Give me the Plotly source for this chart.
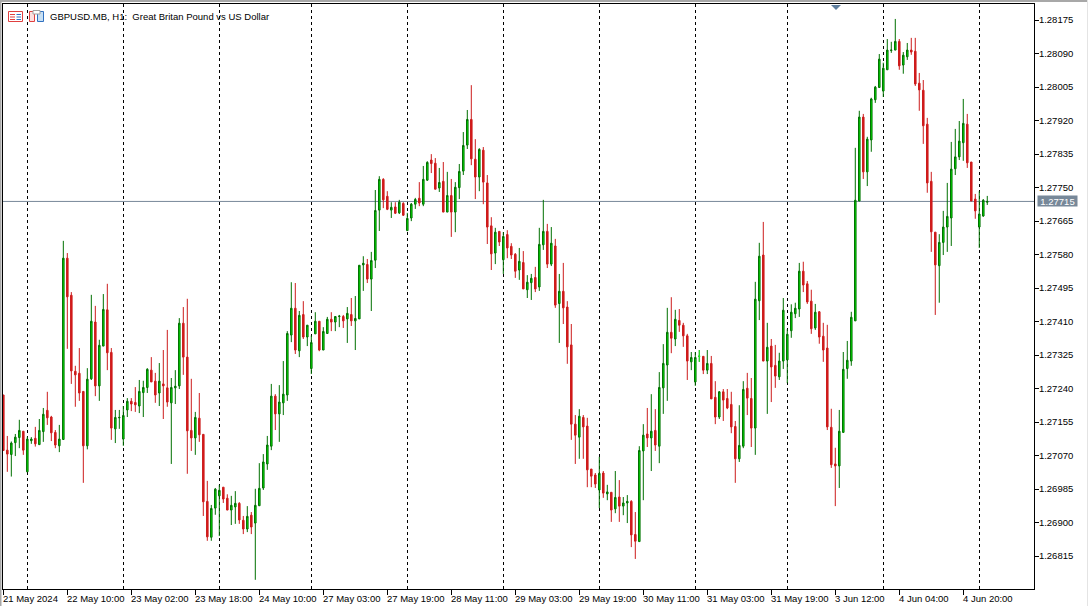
import plotly.graph_objects as go

# Prices in points (1e-5)
opens = [
127224,127084,127073,127103,127116,127132,127029,127108,127114,127098,
127131,127185,127168,127129,127095,127111,127571,127477,127284,127279,
127233,127095,127265,127409,127247,127348,127440,127332,127138,127166,
127112,127186,127208,127205,127196,127230,127243,127287,127259,127229,
127252,127242,127204,127242,127247,127406,127320,127134,127115,127165,
127124,126954,126863,126937,126968,126990,126962,126932,126940,126949,
126906,126884,126919,126899,126943,126988,127049,127094,127221,127176,
127204,127224,127376,127444,127336,127428,127371,127291,127379,127411,
127338,127380,127416,127409,127423,127423,127417,127428,127412,127417,
127554,127555,127518,127566,127693,127771,127728,127693,127701,127686,
127710,127641,127673,127708,127723,127708,127769,127820,127812,127749,
127766,127688,127730,127688,127750,127792,127858,127923,127822,127777,
127845,127762,127653,127584,127639,127567,127631,127601,127581,127541,
127560,127491,127509,127522,127498,127605,127639,127556,127602,127456,
127487,127447,127351,127150,127117,127167,127145,127036,127021,126983,
127026,126973,126977,126935,126965,126942,126950,126954,126870,126852,
127082,127125,127115,127134,127094,127242,127300,127383,127366,127413,
127401,127374,127308,127257,127322,127322,127287,127304,127218,127168,
127232,127215,127200,127144,127062,127094,127241,127215,127140,127463,
127579,127310,127348,127299,127270,127310,127313,127387,127430,127442,
127538,127506,127462,127394,127435,127373,127343,127142,127049,127044,
127129,127291,127310,127412,127716,127929,127790,127871,127973,128004,
127995,128049,128098,128099,128121,128061,128082,128099,128096,128015,
127997,127911,127766,127637,127552,127611,127650,127673,127798,127828,
127864,127911,127815,127721,127650,127678,127713]

highs = [
127224,127120,127106,127125,127161,127132,127118,127117,127143,127163,
127191,127232,127171,127135,127148,127615,127584,127485,127298,127343,
127233,127292,127478,127450,127364,127480,127506,127343,127186,127186,
127196,127216,127216,127244,127262,127260,127292,127320,127280,127305,
127338,127389,127267,127287,127419,127447,127468,127265,127181,127229,
127124,127006,126945,126988,126996,126990,126972,126968,126980,126952,
126917,126942,126927,126986,127051,127074,127120,127252,127226,127249,
127310,127386,127510,127508,127437,127462,127401,127375,127434,127411,
127396,127422,127434,127424,127427,127427,127447,127470,127475,127553,
127576,127569,127587,127744,127779,127774,127741,127713,127713,127719,
127713,127686,127711,127724,127764,127805,127817,127835,127825,127800,
127815,127790,127772,127764,127810,127891,127947,128010,127873,127850,
127853,127782,127675,127648,127639,127637,127642,127609,127584,127597,
127589,127528,127531,127549,127648,127719,127658,127650,127620,127531,
127559,127462,127404,127173,127188,127173,127166,127036,127026,127067,
127031,126996,126977,127031,127008,126965,126970,126957,126927,127094,
127150,127191,127226,127188,127282,127353,127445,127472,127440,127442,
127407,127379,127333,127333,127338,127322,127338,127323,127259,127234,
127239,127239,127232,127158,127198,127259,127280,127267,127511,127610,
127663,127407,127366,127351,127331,127470,127391,127454,127458,127559,
127562,127513,127491,127455,127437,127407,127402,127189,127090,127186,
127333,127361,127435,127851,127945,127937,127879,127978,128008,128089,
128067,128127,128120,128178,128127,128094,128117,128130,128130,128041,
128023,127927,127790,127637,127632,127691,127762,127866,127899,127919,
127975,127937,127815,127734,127741,127721,127729]

lows = [
127083,127029,127017,127069,127089,127072,127029,127100,127093,127098,
127105,127148,127107,127089,127079,127111,127341,127252,127194,127209,
127001,127086,127262,127221,127209,127348,127287,127110,127102,127138,
127095,127168,127183,127181,127178,127168,127229,127257,127204,127196,
127163,127194,127049,127201,127239,127275,127024,127082,127072,127105,
126917,126854,126854,126920,126866,126950,126932,126894,126897,126897,
126871,126876,126871,126755,126943,126983,127034,127084,127135,127105,
127173,127209,127358,127328,127320,127366,127348,127277,127379,127335,
127338,127379,127386,127386,127396,127394,127356,127399,127338,127417,
127488,127508,127437,127546,127640,127698,127693,127673,127683,127683,
127678,127641,127665,127696,127703,127703,127767,127787,127746,127739,
127688,127688,127625,127637,127721,127782,127848,127807,127721,127741,
127708,127607,127541,127556,127602,127531,127571,127569,127521,127516,
127493,127470,127465,127485,127488,127592,127546,127551,127445,127356,
127404,127303,127110,127049,127062,127062,126990,126990,126988,126937,
126963,126957,126902,126924,126902,126919,126899,126838,126808,126852,
126957,127092,127031,127082,127051,127176,127209,127330,127348,127384,
127346,127262,127287,127247,127308,127277,127277,127214,127150,127163,
127158,127188,127127,127001,127054,127089,127173,127092,127072,127414,
127310,127176,127206,127242,127262,127290,127254,127369,127419,127422,
127485,127455,127379,127389,127354,127308,127135,127039,126942,126988,
127129,127265,127298,127412,127716,127772,127754,127841,127965,128004,
127980,128049,128092,128099,128049,128039,128074,128087,128008,127945,
127861,127737,127587,127427,127458,127579,127587,127602,127782,127820,
127818,127800,127716,127671,127597,127676,127706]

closes = [
127083,127074,127102,127117,127134,127084,127112,127112,127100,127134,
127175,127166,127128,127097,127112,127571,127473,127285,127275,127229,
127095,127264,127411,127247,127350,127441,127331,127140,127167,127167,
127172,127208,127201,127199,127233,127243,127289,127257,127224,127259,
127247,127206,127243,127246,127406,127320,127133,127115,127167,127123,
126953,126864,126936,126985,126982,126960,126932,126944,126949,126907,
126884,126916,126889,126944,126987,127054,127097,127221,127176,127206,
127226,127380,127444,127338,127426,127371,127401,127357,127411,127338,
127385,127416,127409,127423,127424,127412,127431,127412,127418,127553,
127558,127518,127565,127692,127771,127719,127695,127700,127685,127713,
127680,127672,127708,127720,127711,127771,127814,127811,127746,127763,
127688,127730,127688,127751,127791,127857,127923,127823,127777,127847,
127764,127650,127582,127637,127612,127626,127597,127579,127538,127563,
127493,127510,127520,127493,127606,127639,127556,127609,127452,127487,
127445,127346,127150,127122,127170,127143,127034,127018,126998,127025,
126975,126978,126932,126964,126942,126950,126954,126869,126853,127083,
127122,127115,127132,127097,127243,127304,127383,127368,127416,127401,
127374,127310,127319,127319,127322,127287,127304,127214,127168,127232,
127211,127191,127143,127062,127096,127238,127216,127140,127467,127576,
127310,127345,127295,127272,127310,127439,127378,127434,127444,127538,
127503,127460,127392,127434,127371,127338,127143,127047,127044,127132,
127289,127312,127421,127718,127929,127790,127873,127975,128005,128076,
128053,128099,128099,128121,128059,128086,128099,128094,128013,127998,
127907,127762,127638,127554,127611,127650,127677,127797,127828,127868,
127913,127813,127716,127691,127683,127718,127715]

date_labels = ["21 May 2024", "22 May 10:00", "23 May 02:00", "23 May 18:00",
               "24 May 10:00", "27 May 03:00", "27 May 19:00", "28 May 11:00",
               "29 May 03:00", "29 May 19:00", "30 May 11:00", "31 May 03:00",
               "31 May 19:00", "3 Jun 12:00", "4 Jun 04:00", "4 Jun 20:00"]
date_bars = [0, 16, 32, 48, 64, 80, 96, 112, 128, 144, 160, 176, 192, 208, 224, 240]
separator_bars = [6, 30, 54, 77, 101, 125, 149, 173, 196, 220, 244]
price_ticks = [1.26815, 1.26900, 1.26985, 1.27070, 1.27155, 1.27240, 1.27325, 1.27410,
               1.27495, 1.27580, 1.27665, 1.27750, 1.27835, 1.27920, 1.28005, 1.28090, 1.28175]
last_price = 1.27715
neutral_bar = 174
title_text = "GBPUSD.MB, H1:&nbsp; Great Britan Pound vs US Dollar"

W, H = 1088, 606
L, R, T, B = 3, 54, 4, 17
FONT = "Liberation Sans"
px_x = lambda v: (v - L) / (W - L - R)
px_y = lambda v: 1 - (v - T) / (H - T - B)

bars = list(range(len(opens)))
to_price = lambda seq: [v / 1e5 for v in seq]

fig = go.Figure()
fig.add_trace(go.Candlestick(
    x=bars, open=to_price(opens), high=to_price(highs), low=to_price(lows), close=to_price(closes),
    increasing=dict(line=dict(color="#007000", width=1), fillcolor="#00f000"),
    decreasing=dict(line=dict(color="#cc1c1c", width=1), fillcolor="#d81a1a"),
    whiskerwidth=0, hoverinfo="none", showlegend=False))
fig.add_trace(go.Candlestick(
    x=[neutral_bar], open=[opens[neutral_bar] / 1e5], high=[highs[neutral_bar] / 1e5],
    low=[lows[neutral_bar] / 1e5], close=[closes[neutral_bar] / 1e5],
    increasing=dict(line=dict(color="#22ee22", width=1), fillcolor="#22ee22"),
    decreasing=dict(line=dict(color="#22ee22", width=1), fillcolor="#22ee22"),
    whiskerwidth=0, hoverinfo="none", showlegend=False))


def rect(x0, y0, x1, y1, line=None, fill=None):
    return dict(type="rect", xref="paper", yref="paper", x0=px_x(x0), x1=px_x(x1),
                y0=px_y(y0), y1=px_y(y1), layer="above",
                line=dict(color=line or "rgba(0,0,0,0)", width=1 if line else 0),
                fillcolor=fill or "rgba(0,0,0,0)")


shapes = [
    dict(type="line", xref="paper", yref="y", x0=0, x1=1, y0=last_price, y1=last_price,
         line=dict(color="#778899", width=1), layer="below"),
    dict(type="path", xref="paper", yref="paper", layer="above", fillcolor="#5f7f9f",
         line=dict(width=0),
         path=f"M {px_x(831)},{px_y(5)} L {px_x(841)},{px_y(5)} L {px_x(836)},{px_y(10)} Z"),
    # window chrome
    rect(0, 0, 1088, 2, fill="#a8a8a8"),
    rect(0, 0, 1.5, 606, fill="#a8a8a8"),
    rect(1087, 0, 1088, 606, fill="#e4e4e4"),
    # header icons
    rect(8.5, 11.5, 22.5, 21.5, line="#e04040", fill="#ffffff"),
    rect(10, 14, 15, 15, fill="#e04040"),
    rect(10, 16.5, 15, 17.5, fill="#e04040"),
    rect(10, 19, 15, 20, fill="#e04040"),
    rect(16.5, 14, 21, 15, fill="#3070c0"),
    rect(16.5, 16.5, 21, 17.5, fill="#3070c0"),
    rect(16.5, 19, 21, 20, fill="#3070c0"),
    rect(29.5, 11.5, 34.5, 21.5, line="#e04040", fill="#fde0e0"),
    rect(37.5, 11.5, 43.5, 21.5, line="#3070c0", fill="#c8e0f4"),
    rect(33, 10.5, 40, 14, line="#a0a0a0", fill="#ffffff"),
]

annotations = [
    dict(text=title_text, xref="paper", yref="paper", x=px_x(48), y=px_y(16), xanchor="left",
         yanchor="middle", showarrow=False, font=dict(family=FONT, size=9.5, color="black")),
    dict(text=f"{last_price:.5f}", xref="paper", yref="y", x=px_x(1037), y=last_price,
         xanchor="left", yanchor="middle", showarrow=False, width=39, height=10, align="center",
         bgcolor="#778899", borderpad=0, font=dict(family=FONT, size=9.5, color="white")),
]
for bar, label in zip(date_bars, date_labels):
    annotations.append(dict(text=label, xref="x", yref="paper", x=bar, y=px_y(598), xanchor="left",
                            yanchor="middle", showarrow=False, xshift=-2,
                            font=dict(family=FONT, size=9.5, color="black")))

fig.update_layout(
    width=W, height=H, autosize=False, paper_bgcolor="white", plot_bgcolor="white",
    margin=dict(l=L, r=R, t=T, b=B, pad=0), boxmode="overlay", boxgap=0.45,
    showlegend=False, shapes=shapes, annotations=annotations, hovermode=False,
    font=dict(family=FONT, size=9.5, color="black"),
    xaxis=dict(range=[-0.08, 257.68], type="linear", rangeslider=dict(visible=False), showgrid=False,
               zeroline=False, showline=True, linecolor="black", linewidth=1, mirror=True,
               tickmode="array", tickvals=date_bars, ticktext=[""] * len(date_bars),
               ticks="outside", ticklen=5, tickcolor="black", tickwidth=1,
               minor=dict(tickmode="array", tickvals=separator_bars, showgrid=True, gridcolor="black",
                          griddash="3px,3px", gridwidth=1, ticks="")),
    yaxis=dict(range=[1.267317, 1.282159], side="right", showgrid=False, zeroline=False,
               showline=True, linecolor="black", linewidth=1, mirror=True,
               tickmode="array", tickvals=price_ticks, ticktext=[f"{p:.5f}" for p in price_ticks],
               ticks="outside", ticklen=4, tickcolor="black", tickwidth=1, ticklabelstandoff=-2,
               tickfont=dict(family=FONT, size=9.5, color="black")),
)

fig.write_html("out.html", config=dict(displayModeBar=False, staticPlot=True),
               post_script="document.body.style.margin='0';document.documentElement.style.overflow='hidden';")
